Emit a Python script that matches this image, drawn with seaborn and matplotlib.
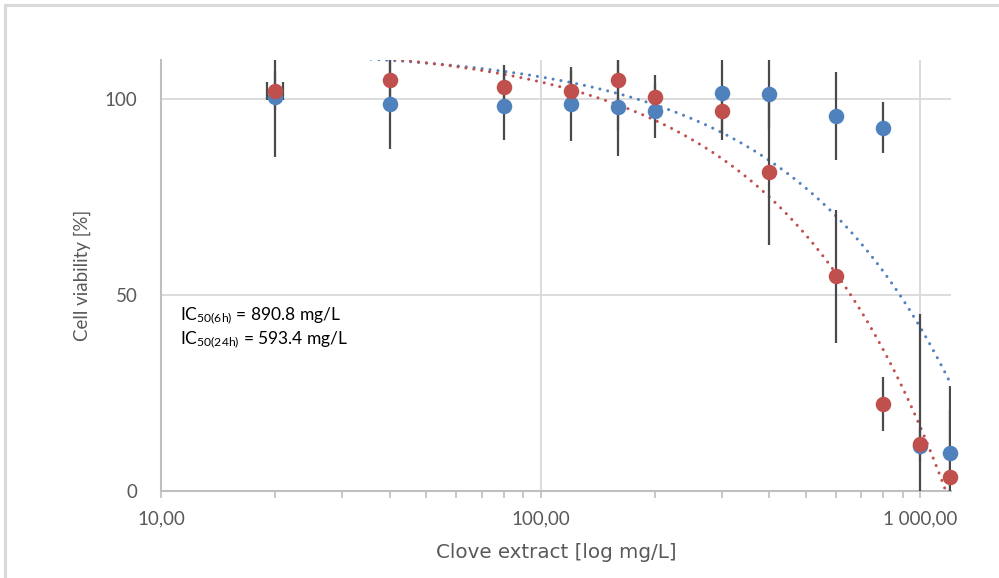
import matplotlib
matplotlib.use("Agg")
import matplotlib.pyplot as plt
from matplotlib.patches import Rectangle
from matplotlib.ticker import FixedLocator, FixedFormatter, LogLocator, NullFormatter
import numpy as np
import pandas as pd
import seaborn as sns

# Clove extract concentrations (mg/L)
conc = [20, 40, 80, 120, 160, 200, 300, 400, 600, 800, 1000, 1200]

# Mean cell viability (%) and standard deviation after 6 h exposure
viability_6h = [100.5, 98.8, 98.2, 98.8, 98.0, 97.1, 101.6, 101.4, 95.7, 92.7, 11.5, 9.7]
sd_6h = [15.3, 11.5, 8.5, 9.5, 12.6, 7.0, 11.9, 9.1, 11.3, 6.5, 33.6, 17.2]

# Mean cell viability (%) and standard deviation after 24 h exposure
viability_24h = [102.2, 105.0, 103.1, 102.2, 105.0, 100.5, 97.1, 81.4, 54.8, 22.3, 11.9, 3.6]
sd_24h = [5.0, 5.0, 5.5, 5.0, 13.2, 5.6, 6.0, 18.6, 17.0, 6.9, 4.5, 17.0]

# Horizontal spread of the lowest 24 h concentration (mg/L)
conc_spread_first = 1.0

x_ticks = [10, 100, 1000]
x_tick_labels = ["10,00", "100,00", "1 000,00"]
y_ticks = [0, 50, 100]
y_tick_labels = ["0", "50", "100"]
ic50_labels = ["IC$_{50(6h)}$ = 890.8 mg/L", "IC$_{50(24h)}$ = 593.4 mg/L"]

BLUE = "#4F81BD"
RED = "#C0504D"
BAR = "#4A4A4A"
GRID = "#D9D9D9"
AXIS = "#BFBFBF"
TEXT = "#595959"

sns.set_theme(style="white")
plt.rcParams["font.family"] = ["Lato", "DejaVu Sans"]
plt.rcParams["mathtext.default"] = "regular"

W, H = 999, 578
fig = plt.figure(figsize=(W / 100, H / 100), dpi=100)
ax = fig.add_axes([161 / W, 1 - 491 / H, (951 - 161) / W, (491 - 60) / H])

# light outer frame of the chart area
fig.patches.append(Rectangle((4.5 / W, -0.2), 1.5, 1.2 - 4.5 / H,
                             transform=fig.transFigure, fill=False,
                             edgecolor=GRID, linewidth=2.2))

ax.set_xscale("log")

df6 = pd.DataFrame({"conc": conc, "viability": viability_6h, "sd": sd_6h})
df24 = pd.DataFrame({"conc": conc, "viability": viability_24h, "sd": sd_24h})

# linear trend lines (fitted in linear concentration)
dot_style = dict(linewidth=2.2, linestyle=(0, (0.01, 2.6)), dash_capstyle="round", zorder=2)
sns.regplot(data=df6, x="conc", y="viability", ax=ax, scatter=False, ci=None,
            truncate=True, color=BLUE, line_kws=dot_style)
sns.regplot(data=df24, x="conc", y="viability", ax=ax, scatter=False, ci=None,
            truncate=True, color=RED, line_kws=dot_style)

# error bars
for d in (df6, df24):
    ax.errorbar(d["conc"], d["viability"], yerr=d["sd"], fmt="none",
                ecolor=BAR, elinewidth=1.6, capsize=0, zorder=3)
ax.errorbar([conc[0]], [viability_24h[0]], xerr=[[conc_spread_first], [conc_spread_first]],
            fmt="none", ecolor=BAR, elinewidth=1.6, capsize=6.5, capthick=1.6, zorder=3)

# markers
sns.scatterplot(data=df6, x="conc", y="viability", ax=ax, color=BLUE, s=125,
                linewidth=0, zorder=4, clip_on=False)
sns.scatterplot(data=df24, x="conc", y="viability", ax=ax, color=RED, s=125,
                linewidth=0, zorder=5, clip_on=False)

ax.set_xlim(10, 1205)
ax.set_ylim(0, 110)

ax.xaxis.set_major_locator(FixedLocator(x_ticks))
ax.xaxis.set_major_formatter(FixedFormatter(x_tick_labels))
ax.xaxis.set_minor_locator(LogLocator(base=10, subs=np.arange(2, 10)))
ax.xaxis.set_minor_formatter(NullFormatter())
ax.yaxis.set_major_locator(FixedLocator(y_ticks))
ax.yaxis.set_major_formatter(FixedFormatter(y_tick_labels))

ax.tick_params(axis="x", which="both", direction="out", length=5, width=1.2,
               color=AXIS, bottom=True, labelsize=13.5, labelcolor=TEXT, pad=9)
ax.tick_params(axis="y", which="both", length=0, labelsize=13.5, labelcolor=TEXT, pad=17)

ax.grid(True, which="major", color=GRID, linewidth=1.3)
ax.set_axisbelow(True)
for side in ("top", "right"):
    ax.spines[side].set_visible(False)
for side in ("left", "bottom"):
    ax.spines[side].set_color(AXIS)
    ax.spines[side].set_linewidth(1.5)
    ax.spines[side].set_zorder(1.5)

ax.set_xlabel("Clove extract [log mg/L]", fontsize=14.3, color=TEXT,
              family=["DejaVu Sans"])
ax.set_ylabel("Cell viability [%]", fontsize=13.5, color=TEXT)
ax.xaxis.set_label_coords(0.5, -0.12)
ax.yaxis.set_label_coords(-0.088, 0.5)

for i, label in enumerate(ic50_labels):
    fig.text(180 / W, 1 - (316 + 24 * i) / H, label, fontsize=12.5, color="black",
             ha="left", va="center")

fig.savefig("out.png", dpi=100)
